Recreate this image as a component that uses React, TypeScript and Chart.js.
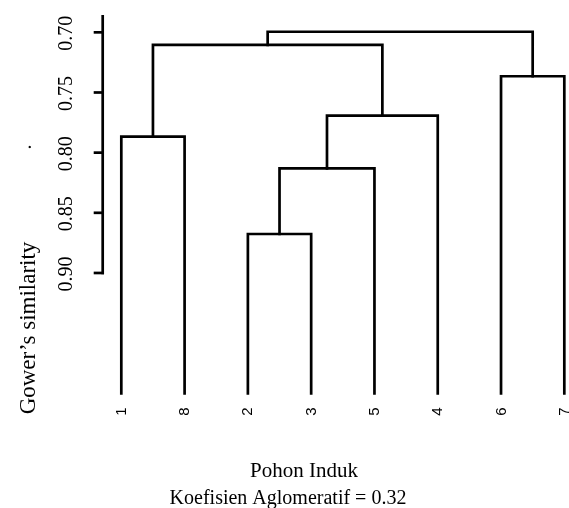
import React, { useEffect, useRef } from "react";
import { Chart, registerables } from "chart.js";

Chart.register(...registerables);

// Leaf order along the x axis
const leafLabels = ["1", "8", "2", "3", "5", "4", "6", "7"];
const leafHeight = 1.0;
// Merges (R hclust style): negative = leaf position (1-based), positive = earlier merge index (1-based)
const mergeLeft = [-3, 1, -1, 2, -7, 3, 6];
const mergeRight = [-4, -5, -2, -6, -8, 4, 5];
const mergeHeights = [0.8676, 0.813, 0.7867, 0.7693, 0.7365, 0.7105, 0.6995];
// Axis
const yTicks = [0.7, 0.75, 0.8, 0.85, 0.9];
const yTickLabels = ["0.70", "0.75", "0.80", "0.85", "0.90"];
const yAxisTop = 0.6856;
const yAxisBottom = 0.9;
const xTitle = "Pohon Induk";
const subTitle = "Koefisien Aglomeratif = 0.32";
const yTitle = "Gower\u2019s similarity";

function buildSegments() {
  const mx: number[] = [];
  const mh: number[] = [];
  const pos = (id: number) => (id < 0 ? -id : mx[id - 1]);
  const hgt = (id: number) => (id < 0 ? leafHeight : mh[id - 1]);
  const sets: any[] = [];
  for (let i = 0; i < mergeHeights.length; i++) {
    const l = mergeLeft[i];
    const r = mergeRight[i];
    const h = mergeHeights[i];
    const xl = pos(l);
    const xr = pos(r);
    sets.push({
      data: [
        { x: xl, y: hgt(l) },
        { x: xl, y: h },
        { x: xr, y: h },
        { x: xr, y: hgt(r) },
      ],
      borderColor: "#000",
      borderWidth: 2.7,
      pointRadius: 0,
      tension: 0,
      fill: false,
      clip: false,
      borderCapStyle: "square",
      borderJoinStyle: "miter",
    });
    mx.push((xl + xr) / 2);
    mh.push(h);
  }
  return sets;
}

const axesPlugin = {
  id: "rAxes",
  afterDraw(chart: any) {
    const ctx = chart.ctx as CanvasRenderingContext2D;
    const ys = chart.scales.y;
    const xs = chart.scales.x;
    const left = chart.chartArea.left;
    ctx.save();
    ctx.strokeStyle = "#000";
    ctx.fillStyle = "#000";
    ctx.lineWidth = 2.7;
    ctx.lineCap = "butt";
    // y axis line
    ctx.beginPath();
    ctx.moveTo(left, ys.getPixelForValue(yAxisTop));
    ctx.lineTo(left, ys.getPixelForValue(yAxisBottom) + 1.3);
    ctx.stroke();
    // ticks
    yTicks.forEach((v) => {
      const py = ys.getPixelForValue(v);
      ctx.beginPath();
      ctx.moveTo(left + 1.3, py);
      ctx.lineTo(left - 9, py);
      ctx.stroke();
    });
    // y tick labels
    ctx.font = "20px 'Liberation Serif'";
    ctx.textAlign = "center";
    ctx.textBaseline = "alphabetic";
    yTicks.forEach((v, i) => {
      const py = ys.getPixelForValue(v);
      ctx.save();
      ctx.translate(left - 31, py + 1);
      ctx.rotate(-Math.PI / 2);
      ctx.fillText(yTickLabels[i], 0, 0);
      ctx.restore();
    });
    // x leaf labels
    ctx.font = "15px 'Liberation Sans'";
    ctx.textAlign = "right";
    const bottom = chart.chartArea.bottom;
    leafLabels.forEach((lab, i) => {
      const px = xs.getPixelForValue(i + 1);
      ctx.save();
      ctx.translate(px + 4.5, bottom + 14);
      ctx.rotate(-Math.PI / 2);
      ctx.fillText(lab, 0, 0);
      ctx.restore();
    });
    // titles
    ctx.textAlign = "center";
    ctx.font = "21px 'Liberation Serif'";
    ctx.fillText(xTitle, 304, 477);
    ctx.font = "20px 'Liberation Serif'";
    ctx.fillText(subTitle, 288, 504);
    ctx.save();
    ctx.font = "23px 'Liberation Serif'";
    ctx.translate(35, 328);
    ctx.rotate(-Math.PI / 2);
    ctx.fillText(yTitle, 0, 0);
    ctx.restore();
    ctx.save();
    ctx.font = "20px 'Liberation Serif'";
    ctx.translate(31, 147);
    ctx.rotate(-Math.PI / 2);
    ctx.fillText(".", 0, 0);
    ctx.restore();
    ctx.restore();
  },
};

export default function App() {
  const ref = useRef<HTMLCanvasElement | null>(null);
  useEffect(() => {
    if (!ref.current) return;
    const chart = new Chart(ref.current, {
      type: "line",
      data: { datasets: buildSegments() },
      options: {
        animation: false,
        responsive: false,
        layout: { padding: { left: 102.7, top: 15, right: 0, bottom: 114.7 } },
        plugins: { legend: { display: false }, tooltip: { enabled: false } },
        scales: {
          x: { type: "linear", min: 0.706, max: 8.074, display: false },
          y: { type: "linear", min: yAxisTop, max: leafHeight, reverse: true, display: false },
        },
      },
      plugins: [axesPlugin],
    } as any);
    return () => chart.destroy();
  }, []);
  return (
    <div style={{ position: "fixed", left: 0, top: 0, width: 569, height: 508, background: "#fff" }}>
      <canvas ref={ref} width={569} height={508} />
    </div>
  );
}
